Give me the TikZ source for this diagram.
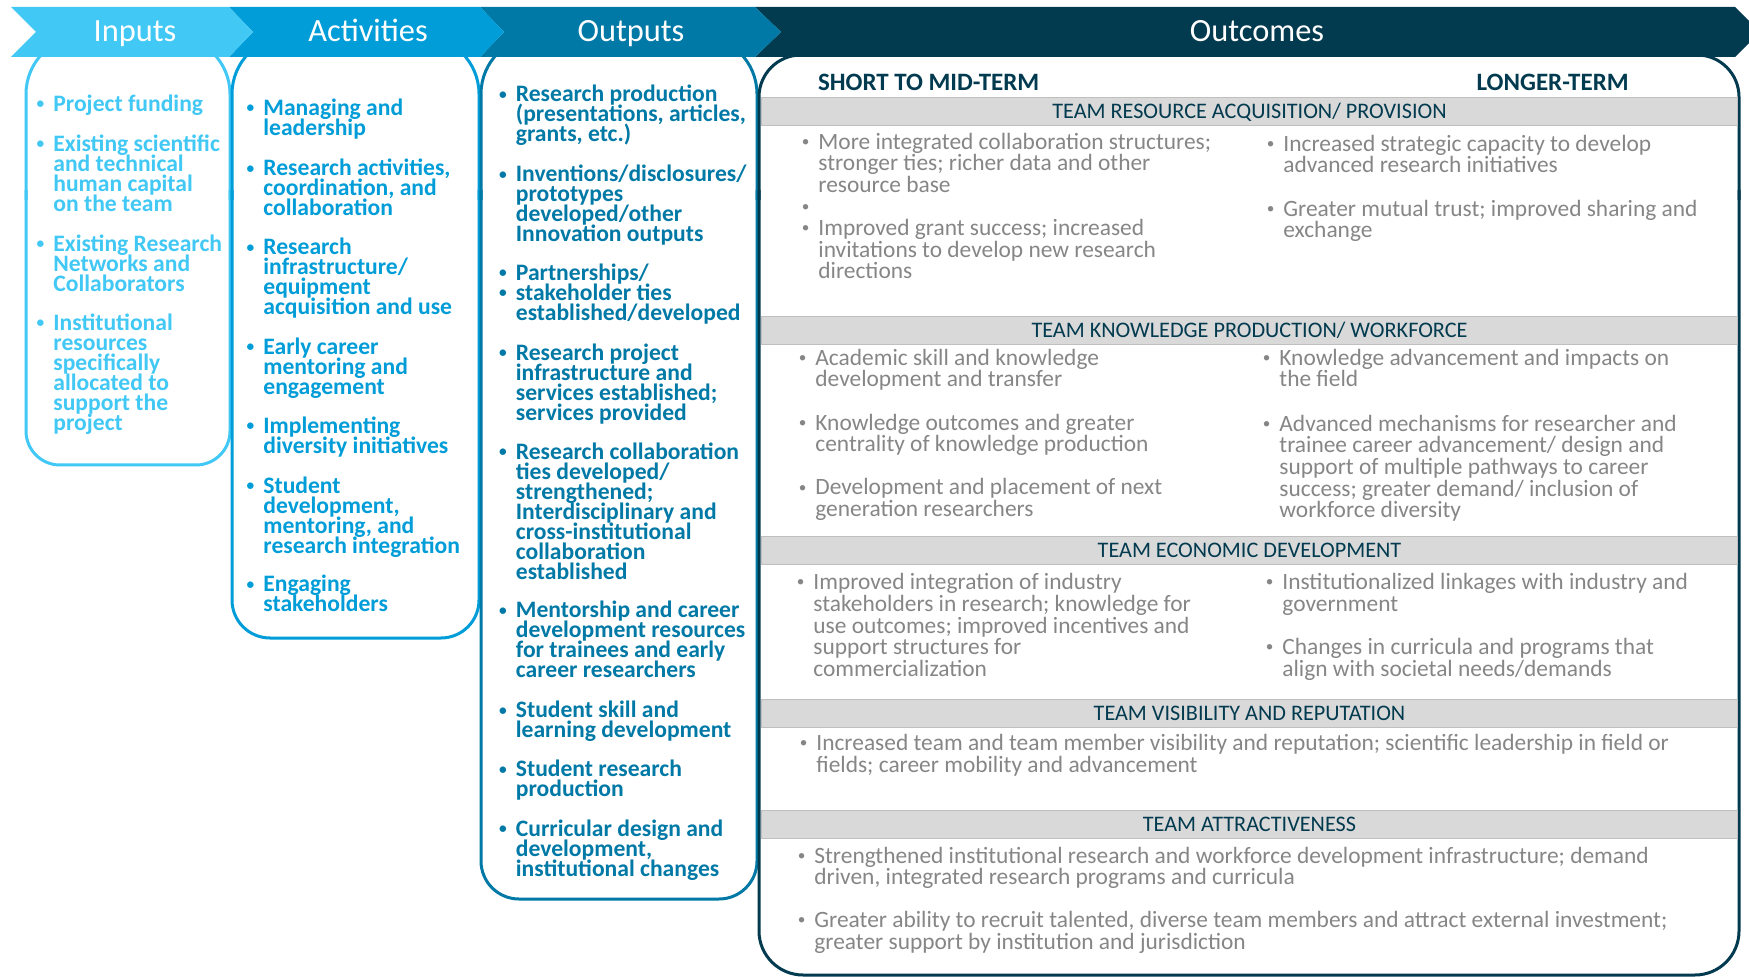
\documentclass[tikz,border=0pt]{standalone}
\usepackage{fontspec}
\setmainfont{Carlito}
\usepackage{xcolor}
\usepackage{tikz}

\definecolor{inblue}{HTML}{41C8F5}
\definecolor{actblue}{HTML}{009DD8}
\definecolor{outblue}{HTML}{0079A6}
\definecolor{navy}{HTML}{023A4F}
\definecolor{bandgray}{HTML}{D9D9D9}
\definecolor{bandline}{HTML}{BFBFBF}
\definecolor{txtgray}{HTML}{868686}

\newcommand{\bul}{\llap{\rule{0pt}{0.8em}\makebox[1.1em][c]{\raisebox{0.12em}{\scalebox{0.65}{\textbullet}}}}}
\newcommand{\bluefont}{\fontsize{11.8}{10}\selectfont\bfseries\lineskiplimit=-20pt}
\newcommand{\grayfont}{\fontsize{11.7}{10.8}\selectfont\lineskiplimit=-20pt}

\begin{document}
\begin{tikzpicture}[
    x=0.5pt, y=-0.5pt,
    boxline/.style={line width=1.5pt},
    banlabel/.style={text=white, font=\fontsize{16.2}{18}\selectfont, inner sep=0, text height=10.2pt, text depth=0pt},
    blist/.style={anchor=north west, yshift=9.44pt, inner sep=0, align=left, font=\bluefont},
    glist/.style={anchor=north west, yshift=9.36pt, inner sep=0, align=left, text=txtgray, font=\grayfont},
    band/.style={fill=bandgray, draw=bandline, line width=0.5pt, minimum width=488pt, minimum height=14pt, inner sep=0, text=navy, font=\fontsize{11.1}{12}\selectfont, text height=7pt, text depth=0pt},
    head/.style={text=navy, font=\fontsize{12.5}{13}\selectfont\bfseries, inner sep=0, text height=7.9pt, text depth=0pt}
]

\path[fill=white, use as bounding box] (0,0) rectangle (1749,977);

% column boxes, tops partly hidden under the banner
\foreach \l/\r/\t/\b/\c/\trad/\brad in {26/230/36/465/inblue/29pt/17pt, 232/479/36/638/actblue/29pt/19pt, 481/757/36/899/outblue/29pt/19pt, 759/1739/55/975/navy/21pt/22pt}{
  \draw[boxline, draw=\c] (\l,200) [rounded corners=\trad] |- (\r,\t) -- (\r,200);
  \draw[boxline, draw=\c] (\l,190) [rounded corners=\brad] |- (\r,\b) -- (\r,190);
}

% banner
\fill[navy] (755,7) -- (1735,7) -- (1760,32) -- (1735,57) -- (755,57) -- (781,32) -- cycle;
\fill[outblue] (480,7) -- (755,7) -- (781,32) -- (755,57) -- (480,57) -- (504,32) -- cycle;
\fill[actblue] (229,7) -- (480,7) -- (504,32) -- (480,57) -- (229,57) -- (253,32) -- cycle;
\fill[inblue] (11,7) -- (229,7) -- (253,32) -- (229,57) -- (11,57) -- (36,32) -- cycle;

\node[banlabel] (tin) at (135,31) {Inputs};
\node[banlabel] (tact) at (368,31) {Activities};
\node[banlabel] (tout) at (631,31) {Outputs};
\node[banlabel] (toc) at (1257,31) {Outcomes};

% inputs
\node[blist, text=inblue] (in1) at (53,111) {\bul Project funding};
\node[blist, text=inblue] (in2) at (53,151) {\bul Existing scientific\\and technical\\human capital\\on the team};
\node[blist, text=inblue] (in3) at (53,251) {\bul Existing Research\\Networks and\\Collaborators};
\node[blist, text=inblue] (in4) at (53,330) {\bul Institutional\\resources\\specifically\\allocated to\\support the\\project};

% activities
\node[blist, text=actblue] (ac1) at (263,115) {\bul Managing and\\leadership};
\node[blist, text=actblue] (ac2) at (263,175.5) {\bul Research activities,\\coordination, and\\collaboration};
\node[blist, text=actblue] (ac3) at (263,254.5) {\bul Research\\infrastructure/\\equipment\\acquisition and use};
\node[blist, text=actblue] (ac4) at (263,354) {\bul Early career\\mentoring and\\engagement};
\node[blist, text=actblue] (ac5) at (263,433) {\bul Implementing\\diversity initiatives};
\node[blist, text=actblue] (ac6) at (263,493) {\bul Student\\development,\\mentoring, and\\research integration};
\node[blist, text=actblue] (ac7) at (263,591.5) {\bul Engaging\\stakeholders};

% outputs
\node[blist, text=outblue] (op1) at (515.5,101.5) {\bul Research production\\(presentations, articles,\\grants, etc.)};
\node[blist, text=outblue] (op2) at (515.5,181.5) {\bul Inventions/disclosures/\\prototypes\\developed/other\\Innovation outputs};
\node[blist, text=outblue] (op3) at (515.5,280) {\bul Partnerships/\\\bul stakeholder ties\\established/developed};
\node[blist, text=outblue] (op4) at (515.5,360) {\bul Research project\\infrastructure and\\services established;\\services provided};
\node[blist, text=outblue] (op5) at (515.5,459) {\bul Research collaboration\\ties developed/\\strengthened;\\Interdisciplinary and\\cross-institutional\\collaboration\\established};
\node[blist, text=outblue] (op6) at (515.5,617.5) {\bul Mentorship and career\\development resources\\for trainees and early\\career researchers};
\node[blist, text=outblue] (op7) at (515.5,717.5) {\bul Student skill and\\learning development};
\node[blist, text=outblue] (op8) at (515.5,776.5) {\bul Student research\\production};
\node[blist, text=outblue] (op9) at (515.5,836) {\bul Curricular design and\\development,\\institutional changes};

% outcomes
\node[head, anchor=west] (short) at (817.6,82.5) {SHORT TO MID-TERM};
\node[head] (long) at (1552.6,82.5) {LONGER-TERM};

\node[band] (band1) at (1249.5,112) {TEAM RESOURCE ACQUISITION/ PROVISION};
\node[band] (band2) at (1249.5,331) {TEAM KNOWLEDGE PRODUCTION/ WORKFORCE};
\node[band] (band3) at (1249.5,551) {TEAM ECONOMIC DEVELOPMENT};
\node[band] (band4) at (1249.5,713) {TEAM VISIBILITY AND REPUTATION};
\node[band] (band5) at (1249.5,824) {TEAM ATTRACTIVENESS};

\node[glist] (s1) at (818,149) {\bul More integrated collaboration structures;\\stronger ties; richer data and other\\resource base\\\bul\\\bul Improved grant success; increased\\invitations to develop new research\\directions};
\node[glist] (l1) at (1283,151) {\bul Increased strategic capacity to develop\\advanced research initiatives};
\node[glist] (l2) at (1283,215.7) {\bul Greater mutual trust; improved sharing and\\exchange};

\node[glist] (s2) at (815,365) {\bul Academic skill and knowledge\\development and transfer};
\node[glist] (s3) at (815,430) {\bul Knowledge outcomes and greater\\centrality of knowledge production};
\node[glist] (s4) at (815,494.5) {\bul Development and placement of next\\generation researchers};
\node[glist] (l3) at (1279,365) {\bul Knowledge advancement and impacts on\\the field};
\node[glist] (l4) at (1279,431) {\bul Advanced mechanisms for researcher and\\trainee career advancement/ design and\\support of multiple pathways to career\\success; greater demand/ inclusion of\\workforce diversity};

\node[glist] (s5) at (813,589.4) {\bul Improved integration of industry\\stakeholders in research; knowledge for\\use outcomes; improved incentives and\\support structures for\\commercialization};
\node[glist] (l5) at (1282,589.4) {\bul Institutionalized linkages with industry and\\government};
\node[glist] (l6) at (1282,654) {\bul Changes in curricula and programs that\\align with societal needs/demands};

\node[glist] (v1) at (816,750) {\bul Increased team and team member visibility and reputation; scientific leadership in field or\\fields; career mobility and advancement};

\node[glist] (a1) at (814,862.6) {\bul Strengthened institutional research and workforce development infrastructure; demand\\driven, integrated research programs and curricula};
\node[glist] (a2) at (814,927.3) {\bul Greater ability to recruit talented, diverse team members and attract external investment;\\greater support by institution and jurisdiction};

\end{tikzpicture}
\end{document}
